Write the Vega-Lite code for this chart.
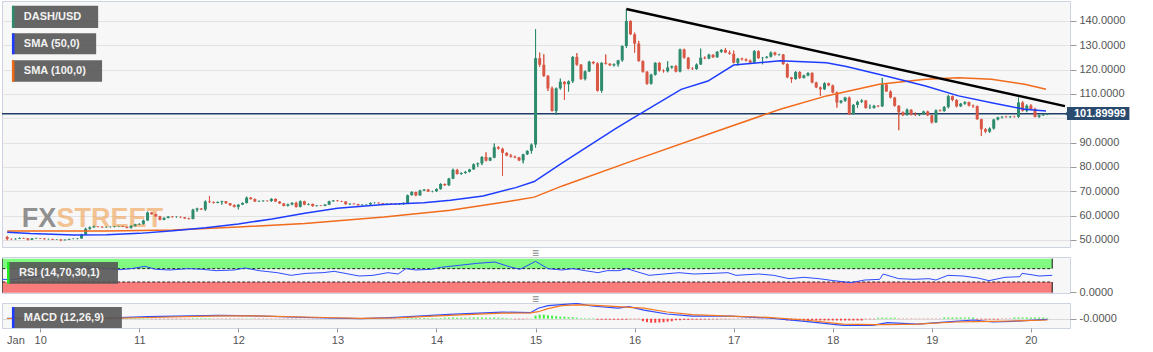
{
"$schema": "https://vega.github.io/schema/vega-lite/v6.json",
"padding": 0,
"background": "white",
"spacing": 10,
"bounds": "flush",
"config": {
  "font": "Liberation Sans",
  "view": {"stroke": "#cdd3e2", "fill": "#f7f7f7"},
  "axis": {"labelFont": "Liberation Sans", "labelFontSize": 11, "labelColor": "#555555", "tickColor": "#999999", "domain": false, "gridColor": "#e2e2e2"}
},
"datasets": {
"candles": [
{"t":"2020-01-09T16:00","o":51.2,"h":51.6,"l":49.9,"c":50.4,"hg":-0.2},
{"t":"2020-01-09T17:00","o":50.4,"h":50.6,"l":50.1,"c":50.3,"hg":-0.2},
{"t":"2020-01-09T18:00","o":50.3,"h":50.6,"l":50.2,"c":50.5,"hg":-0.2},
{"t":"2020-01-09T19:00","o":50.5,"h":51.0,"l":50.4,"c":50.8,"hg":-0.2},
{"t":"2020-01-09T20:00","o":50.8,"h":50.9,"l":50.5,"c":50.6,"hg":-0.2},
{"t":"2020-01-09T21:00","o":50.6,"h":50.7,"l":49.8,"c":50.1,"hg":-0.2},
{"t":"2020-01-09T22:00","o":50.1,"h":50.8,"l":50.0,"c":50.6,"hg":-0.2},
{"t":"2020-01-09T23:00","o":50.6,"h":50.9,"l":50.5,"c":50.7,"hg":-0.2},
{"t":"2020-01-10T00:00","o":50.7,"h":50.8,"l":50.4,"c":50.6,"hg":-0.2},
{"t":"2020-01-10T01:00","o":50.6,"h":50.7,"l":50.2,"c":50.3,"hg":-0.2},
{"t":"2020-01-10T02:00","o":50.3,"h":50.5,"l":50.2,"c":50.4,"hg":-0.2},
{"t":"2020-01-10T03:00","o":50.4,"h":50.5,"l":50.0,"c":50.1,"hg":-0.2},
{"t":"2020-01-10T04:00","o":50.1,"h":50.3,"l":50.0,"c":50.2,"hg":-0.2},
{"t":"2020-01-10T05:00","o":50.2,"h":50.3,"l":49.5,"c":49.9,"hg":-0.2},
{"t":"2020-01-10T06:00","o":49.9,"h":50.2,"l":49.8,"c":50.1,"hg":-0.2},
{"t":"2020-01-10T07:00","o":50.1,"h":50.5,"l":50.0,"c":50.4,"hg":-0.2},
{"t":"2020-01-10T08:00","o":50.4,"h":50.6,"l":50.3,"c":50.5,"hg":-0.2},
{"t":"2020-01-10T09:00","o":50.5,"h":50.8,"l":50.3,"c":50.6,"hg":-0.2},
{"t":"2020-01-10T10:00","o":50.6,"h":52.5,"l":50.5,"c":52.2,"hg":0.5},
{"t":"2020-01-10T11:00","o":52.2,"h":55.0,"l":52.0,"c":54.6,"hg":0.5},
{"t":"2020-01-10T12:00","o":54.6,"h":55.5,"l":54.2,"c":55.2,"hg":0.5},
{"t":"2020-01-10T13:00","o":55.2,"h":55.9,"l":55.0,"c":55.5,"hg":0.5},
{"t":"2020-01-10T14:00","o":55.5,"h":55.7,"l":55.2,"c":55.4,"hg":0.5},
{"t":"2020-01-10T15:00","o":55.4,"h":55.6,"l":55.0,"c":55.2,"hg":0.5},
{"t":"2020-01-10T16:00","o":55.2,"h":55.5,"l":55.0,"c":55.3,"hg":0.5},
{"t":"2020-01-10T17:00","o":55.3,"h":55.5,"l":55.1,"c":55.4,"hg":0.5},
{"t":"2020-01-10T18:00","o":55.4,"h":55.7,"l":55.2,"c":55.6,"hg":0.5},
{"t":"2020-01-10T19:00","o":55.6,"h":55.8,"l":55.4,"c":55.7,"hg":0.5},
{"t":"2020-01-10T20:00","o":55.7,"h":55.8,"l":55.3,"c":55.4,"hg":0.5},
{"t":"2020-01-10T21:00","o":55.4,"h":55.5,"l":54.8,"c":55.0,"hg":0.5},
{"t":"2020-01-10T22:00","o":55.0,"h":56.0,"l":54.7,"c":55.8,"hg":0.5},
{"t":"2020-01-10T23:00","o":55.8,"h":56.6,"l":55.5,"c":56.4,"hg":0.5},
{"t":"2020-01-11T00:00","o":56.4,"h":56.8,"l":56.2,"c":56.6,"hg":0.5},
{"t":"2020-01-11T01:00","o":56.6,"h":58.3,"l":56.3,"c":58.0,"hg":0.5},
{"t":"2020-01-11T02:00","o":58.0,"h":61.6,"l":57.8,"c":61.3,"hg":0.5},
{"t":"2020-01-11T03:00","o":61.3,"h":61.5,"l":60.4,"c":60.6,"hg":-0.4},
{"t":"2020-01-11T04:00","o":60.6,"h":60.8,"l":59.5,"c":59.7,"hg":-0.4},
{"t":"2020-01-11T05:00","o":59.7,"h":59.9,"l":58.1,"c":58.3,"hg":-0.4},
{"t":"2020-01-11T06:00","o":58.3,"h":59.3,"l":58.1,"c":59.0,"hg":-0.4},
{"t":"2020-01-11T07:00","o":59.0,"h":59.8,"l":58.9,"c":59.6,"hg":-0.4},
{"t":"2020-01-11T08:00","o":59.6,"h":59.8,"l":59.2,"c":59.4,"hg":-0.4},
{"t":"2020-01-11T09:00","o":59.4,"h":59.7,"l":59.2,"c":59.5,"hg":-0.4},
{"t":"2020-01-11T10:00","o":59.5,"h":59.6,"l":59.1,"c":59.3,"hg":-0.4},
{"t":"2020-01-11T11:00","o":59.3,"h":59.4,"l":58.6,"c":58.8,"hg":-0.4},
{"t":"2020-01-11T12:00","o":58.8,"h":59.1,"l":58.4,"c":58.6,"hg":-0.4},
{"t":"2020-01-11T13:00","o":58.6,"h":62.8,"l":58.5,"c":62.4,"hg":0.5},
{"t":"2020-01-11T14:00","o":62.4,"h":63.2,"l":61.6,"c":62.9,"hg":0.5},
{"t":"2020-01-11T15:00","o":62.9,"h":63.0,"l":62.3,"c":62.5,"hg":0.5},
{"t":"2020-01-11T16:00","o":62.5,"h":66.2,"l":61.9,"c":65.8,"hg":0.5},
{"t":"2020-01-11T17:00","o":65.8,"h":68.1,"l":65.2,"c":65.5,"hg":0.5},
{"t":"2020-01-11T18:00","o":65.5,"h":65.8,"l":65.0,"c":65.2,"hg":-0.3},
{"t":"2020-01-11T19:00","o":65.2,"h":65.8,"l":65.1,"c":65.6,"hg":-0.3},
{"t":"2020-01-11T20:00","o":65.6,"h":66.1,"l":64.5,"c":65.9,"hg":-0.3},
{"t":"2020-01-11T21:00","o":65.9,"h":66.0,"l":64.9,"c":65.1,"hg":-0.3},
{"t":"2020-01-11T22:00","o":65.1,"h":65.2,"l":64.0,"c":64.3,"hg":-0.3},
{"t":"2020-01-11T23:00","o":64.3,"h":64.6,"l":63.4,"c":63.6,"hg":-0.3},
{"t":"2020-01-12T00:00","o":63.6,"h":64.7,"l":62.6,"c":64.5,"hg":-0.3},
{"t":"2020-01-12T01:00","o":64.5,"h":65.4,"l":64.4,"c":65.2,"hg":-0.3},
{"t":"2020-01-12T02:00","o":65.2,"h":67.8,"l":65.0,"c":67.4,"hg":0.3},
{"t":"2020-01-12T03:00","o":67.4,"h":67.6,"l":66.6,"c":66.8,"hg":0.3},
{"t":"2020-01-12T04:00","o":66.8,"h":67.0,"l":65.6,"c":65.8,"hg":-0.3},
{"t":"2020-01-12T05:00","o":65.8,"h":66.2,"l":65.6,"c":65.9,"hg":-0.3},
{"t":"2020-01-12T06:00","o":65.9,"h":66.3,"l":65.8,"c":66.1,"hg":-0.3},
{"t":"2020-01-12T07:00","o":66.1,"h":66.3,"l":65.8,"c":66.0,"hg":-0.3},
{"t":"2020-01-12T08:00","o":66.0,"h":67.1,"l":65.6,"c":66.9,"hg":-0.3},
{"t":"2020-01-12T09:00","o":66.9,"h":67.0,"l":65.6,"c":65.8,"hg":-0.3},
{"t":"2020-01-12T10:00","o":65.8,"h":66.0,"l":64.8,"c":65.0,"hg":-0.3},
{"t":"2020-01-12T11:00","o":65.0,"h":65.2,"l":63.8,"c":64.0,"hg":-0.3},
{"t":"2020-01-12T12:00","o":64.0,"h":64.9,"l":63.8,"c":64.6,"hg":-0.3},
{"t":"2020-01-12T13:00","o":64.6,"h":65.5,"l":64.3,"c":65.2,"hg":-0.3},
{"t":"2020-01-12T14:00","o":65.2,"h":65.7,"l":63.3,"c":63.6,"hg":-0.3},
{"t":"2020-01-12T15:00","o":63.6,"h":66.2,"l":63.4,"c":65.9,"hg":-0.2},
{"t":"2020-01-12T16:00","o":65.9,"h":66.1,"l":64.3,"c":64.5,"hg":-0.2},
{"t":"2020-01-12T17:00","o":64.5,"h":65.0,"l":64.3,"c":64.8,"hg":-0.2},
{"t":"2020-01-12T18:00","o":64.8,"h":64.9,"l":63.7,"c":63.9,"hg":-0.2},
{"t":"2020-01-12T19:00","o":63.9,"h":64.3,"l":63.8,"c":64.1,"hg":-0.2},
{"t":"2020-01-12T20:00","o":64.1,"h":64.3,"l":63.9,"c":64.0,"hg":-0.2},
{"t":"2020-01-12T21:00","o":64.0,"h":64.7,"l":63.9,"c":64.5,"hg":-0.2},
{"t":"2020-01-12T22:00","o":64.5,"h":66.1,"l":64.4,"c":65.9,"hg":-0.2},
{"t":"2020-01-12T23:00","o":65.9,"h":66.4,"l":65.7,"c":66.2,"hg":-0.2},
{"t":"2020-01-13T00:00","o":66.2,"h":66.4,"l":65.8,"c":66.0,"hg":-0.2},
{"t":"2020-01-13T01:00","o":66.0,"h":66.1,"l":65.6,"c":65.8,"hg":-0.2},
{"t":"2020-01-13T02:00","o":65.8,"h":65.9,"l":64.5,"c":64.7,"hg":-0.2},
{"t":"2020-01-13T03:00","o":64.7,"h":65.0,"l":64.4,"c":64.9,"hg":-0.2},
{"t":"2020-01-13T04:00","o":64.9,"h":65.0,"l":64.6,"c":64.7,"hg":-0.2},
{"t":"2020-01-13T05:00","o":64.7,"h":64.8,"l":64.1,"c":64.3,"hg":-0.2},
{"t":"2020-01-13T06:00","o":64.3,"h":64.6,"l":64.2,"c":64.5,"hg":-0.2},
{"t":"2020-01-13T07:00","o":64.5,"h":64.7,"l":64.4,"c":64.6,"hg":-0.2},
{"t":"2020-01-13T08:00","o":64.6,"h":65.4,"l":64.4,"c":65.2,"hg":-0.2},
{"t":"2020-01-13T09:00","o":65.2,"h":65.4,"l":65.0,"c":65.3,"hg":-0.2},
{"t":"2020-01-13T10:00","o":65.3,"h":65.4,"l":64.9,"c":65.1,"hg":-0.2},
{"t":"2020-01-13T11:00","o":65.1,"h":65.2,"l":64.6,"c":64.8,"hg":-0.2},
{"t":"2020-01-13T12:00","o":64.8,"h":65.0,"l":64.6,"c":64.9,"hg":-0.2},
{"t":"2020-01-13T13:00","o":64.9,"h":65.1,"l":64.7,"c":64.8,"hg":-0.2},
{"t":"2020-01-13T14:00","o":64.8,"h":65.0,"l":64.5,"c":64.6,"hg":-0.2},
{"t":"2020-01-13T15:00","o":64.6,"h":64.9,"l":64.4,"c":64.7,"hg":-0.2},
{"t":"2020-01-13T16:00","o":64.7,"h":65.4,"l":64.6,"c":65.2,"hg":-0.2},
{"t":"2020-01-13T17:00","o":65.2,"h":68.6,"l":65.1,"c":68.4,"hg":0.6},
{"t":"2020-01-13T18:00","o":68.4,"h":70.0,"l":68.3,"c":69.7,"hg":0.6},
{"t":"2020-01-13T19:00","o":69.7,"h":69.8,"l":68.0,"c":68.3,"hg":0.6},
{"t":"2020-01-13T20:00","o":68.3,"h":70.6,"l":68.2,"c":70.3,"hg":0.6},
{"t":"2020-01-13T21:00","o":70.3,"h":70.9,"l":70.1,"c":70.7,"hg":0.6},
{"t":"2020-01-13T22:00","o":70.7,"h":70.9,"l":69.7,"c":69.9,"hg":0.6},
{"t":"2020-01-13T23:00","o":69.9,"h":70.2,"l":69.6,"c":70.0,"hg":0.6},
{"t":"2020-01-14T00:00","o":70.0,"h":71.2,"l":69.8,"c":70.9,"hg":0.6},
{"t":"2020-01-14T01:00","o":70.9,"h":73.3,"l":70.7,"c":73.0,"hg":0.6},
{"t":"2020-01-14T02:00","o":73.0,"h":73.2,"l":72.2,"c":72.5,"hg":1.0},
{"t":"2020-01-14T03:00","o":72.5,"h":75.5,"l":72.2,"c":75.2,"hg":1.0},
{"t":"2020-01-14T04:00","o":75.2,"h":79.3,"l":75.0,"c":78.8,"hg":1.2},
{"t":"2020-01-14T05:00","o":78.8,"h":79.2,"l":76.9,"c":77.1,"hg":1.0},
{"t":"2020-01-14T06:00","o":77.1,"h":77.8,"l":76.8,"c":77.5,"hg":1.0},
{"t":"2020-01-14T07:00","o":77.5,"h":78.3,"l":77.2,"c":78.0,"hg":1.0},
{"t":"2020-01-14T08:00","o":78.0,"h":79.2,"l":77.8,"c":79.0,"hg":1.0},
{"t":"2020-01-14T09:00","o":79.0,"h":81.4,"l":78.8,"c":81.1,"hg":1.2},
{"t":"2020-01-14T10:00","o":81.1,"h":81.8,"l":80.0,"c":81.5,"hg":1.2},
{"t":"2020-01-14T11:00","o":81.5,"h":84.4,"l":80.8,"c":84.1,"hg":1.2},
{"t":"2020-01-14T12:00","o":84.1,"h":86.0,"l":82.3,"c":82.6,"hg":1.0},
{"t":"2020-01-14T13:00","o":82.6,"h":84.0,"l":82.4,"c":83.8,"hg":1.0},
{"t":"2020-01-14T14:00","o":83.8,"h":89.6,"l":83.6,"c":88.1,"hg":1.2},
{"t":"2020-01-14T15:00","o":88.1,"h":88.6,"l":87.2,"c":87.5,"hg":1.0},
{"t":"2020-01-14T16:00","o":87.5,"h":87.9,"l":76.3,"c":85.8,"hg":0.8},
{"t":"2020-01-14T17:00","o":85.8,"h":86.0,"l":84.4,"c":84.7,"hg":0.6},
{"t":"2020-01-14T18:00","o":84.7,"h":85.3,"l":83.9,"c":84.2,"hg":0.4},
{"t":"2020-01-14T19:00","o":84.2,"h":84.6,"l":83.6,"c":83.9,"hg":-0.5},
{"t":"2020-01-14T20:00","o":83.9,"h":84.1,"l":82.4,"c":82.7,"hg":-0.5},
{"t":"2020-01-14T21:00","o":82.7,"h":85.4,"l":81.5,"c":85.2,"hg":-0.5},
{"t":"2020-01-14T22:00","o":85.2,"h":86.8,"l":84.9,"c":86.6,"hg":-0.3},
{"t":"2020-01-14T23:00","o":86.6,"h":89.6,"l":85.5,"c":89.2,"hg":0.3},
{"t":"2020-01-15T00:00","o":89.2,"h":136.6,"l":87.9,"c":124.7,"hg":3.0},
{"t":"2020-01-15T01:00","o":124.7,"h":127.0,"l":121.2,"c":122.0,"hg":4.0},
{"t":"2020-01-15T02:00","o":122.0,"h":126.3,"l":117.0,"c":117.4,"hg":4.0},
{"t":"2020-01-15T03:00","o":117.4,"h":117.8,"l":111.2,"c":112.3,"hg":3.5},
{"t":"2020-01-15T04:00","o":112.3,"h":113.0,"l":102.8,"c":103.0,"hg":3.0},
{"t":"2020-01-15T05:00","o":103.0,"h":112.6,"l":101.4,"c":112.3,"hg":2.5},
{"t":"2020-01-15T06:00","o":112.3,"h":116.3,"l":111.8,"c":115.0,"hg":2.0},
{"t":"2020-01-15T07:00","o":115.0,"h":115.3,"l":107.5,"c":114.0,"hg":2.0},
{"t":"2020-01-15T08:00","o":114.0,"h":115.5,"l":111.0,"c":115.2,"hg":1.5},
{"t":"2020-01-15T09:00","o":115.2,"h":125.6,"l":114.5,"c":125.2,"hg":1.5},
{"t":"2020-01-15T10:00","o":125.2,"h":126.8,"l":121.6,"c":122.0,"hg":1.0},
{"t":"2020-01-15T11:00","o":122.0,"h":122.3,"l":115.8,"c":116.2,"hg":0.5},
{"t":"2020-01-15T12:00","o":116.2,"h":119.6,"l":115.6,"c":119.3,"hg":0.5},
{"t":"2020-01-15T13:00","o":119.3,"h":123.6,"l":119.0,"c":123.2,"hg":0.5},
{"t":"2020-01-15T14:00","o":123.2,"h":123.4,"l":122.2,"c":122.6,"hg":0.5},
{"t":"2020-01-15T15:00","o":122.6,"h":123.0,"l":111.0,"c":111.3,"hg":-1.0},
{"t":"2020-01-15T16:00","o":111.3,"h":123.0,"l":110.5,"c":122.8,"hg":-1.0},
{"t":"2020-01-15T17:00","o":122.8,"h":126.2,"l":122.1,"c":122.4,"hg":-1.0},
{"t":"2020-01-15T18:00","o":122.4,"h":122.6,"l":121.5,"c":121.8,"hg":-1.0},
{"t":"2020-01-15T19:00","o":121.8,"h":122.5,"l":121.3,"c":122.2,"hg":-1.0},
{"t":"2020-01-15T20:00","o":122.2,"h":124.0,"l":121.3,"c":123.8,"hg":-1.0},
{"t":"2020-01-15T21:00","o":123.8,"h":129.9,"l":123.3,"c":129.7,"hg":-1.0},
{"t":"2020-01-15T22:00","o":129.7,"h":144.9,"l":128.9,"c":140.0,"hg":-1.0},
{"t":"2020-01-15T23:00","o":140.0,"h":140.3,"l":134.2,"c":134.5,"hg":-0.5},
{"t":"2020-01-16T00:00","o":134.5,"h":135.2,"l":127.0,"c":130.7,"hg":-0.5},
{"t":"2020-01-16T01:00","o":130.7,"h":131.8,"l":123.3,"c":123.5,"hg":-0.5},
{"t":"2020-01-16T02:00","o":123.5,"h":123.8,"l":118.8,"c":119.1,"hg":-2.5},
{"t":"2020-01-16T03:00","o":119.1,"h":119.4,"l":113.8,"c":114.2,"hg":-3.5},
{"t":"2020-01-16T04:00","o":114.2,"h":118.3,"l":113.9,"c":117.9,"hg":-4.0},
{"t":"2020-01-16T05:00","o":117.9,"h":123.0,"l":117.6,"c":122.8,"hg":-4.0},
{"t":"2020-01-16T06:00","o":122.8,"h":123.1,"l":119.2,"c":119.6,"hg":-3.8},
{"t":"2020-01-16T07:00","o":119.6,"h":120.1,"l":118.8,"c":119.3,"hg":-3.5},
{"t":"2020-01-16T08:00","o":119.3,"h":123.5,"l":118.9,"c":120.9,"hg":-3.0},
{"t":"2020-01-16T09:00","o":120.9,"h":121.6,"l":120.4,"c":121.4,"hg":-2.5},
{"t":"2020-01-16T10:00","o":121.4,"h":121.9,"l":118.9,"c":119.2,"hg":-1.5},
{"t":"2020-01-16T11:00","o":119.2,"h":128.6,"l":118.9,"c":128.3,"hg":-1.5},
{"t":"2020-01-16T12:00","o":128.3,"h":128.6,"l":124.5,"c":124.9,"hg":-1.2},
{"t":"2020-01-16T13:00","o":124.9,"h":125.2,"l":120.1,"c":120.4,"hg":-1.2},
{"t":"2020-01-16T14:00","o":120.4,"h":121.0,"l":119.9,"c":120.2,"hg":-1.0},
{"t":"2020-01-16T15:00","o":120.2,"h":122.5,"l":120.0,"c":122.1,"hg":-1.0},
{"t":"2020-01-16T16:00","o":122.1,"h":128.6,"l":121.9,"c":124.9,"hg":-1.0},
{"t":"2020-01-16T17:00","o":124.9,"h":125.4,"l":124.3,"c":124.6,"hg":-0.8},
{"t":"2020-01-16T18:00","o":124.6,"h":126.5,"l":124.3,"c":126.1,"hg":-0.8},
{"t":"2020-01-16T19:00","o":126.1,"h":126.3,"l":124.8,"c":125.1,"hg":-0.6},
{"t":"2020-01-16T20:00","o":125.1,"h":127.6,"l":124.9,"c":127.3,"hg":-0.6},
{"t":"2020-01-16T21:00","o":127.3,"h":128.4,"l":126.9,"c":128.1,"hg":-0.5},
{"t":"2020-01-16T22:00","o":128.1,"h":128.9,"l":126.8,"c":127.0,"hg":-0.5},
{"t":"2020-01-16T23:00","o":127.0,"h":127.8,"l":126.2,"c":126.5,"hg":-0.4},
{"t":"2020-01-17T00:00","o":126.5,"h":127.8,"l":122.6,"c":122.8,"hg":-0.3},
{"t":"2020-01-17T01:00","o":122.8,"h":124.8,"l":121.7,"c":124.5,"hg":-0.3},
{"t":"2020-01-17T02:00","o":124.5,"h":124.9,"l":123.8,"c":124.2,"hg":-0.3},
{"t":"2020-01-17T03:00","o":124.2,"h":124.6,"l":123.4,"c":123.7,"hg":-0.3},
{"t":"2020-01-17T04:00","o":123.7,"h":124.1,"l":122.6,"c":122.9,"hg":-0.3},
{"t":"2020-01-17T05:00","o":122.9,"h":128.0,"l":122.7,"c":127.6,"hg":-0.3},
{"t":"2020-01-17T06:00","o":127.6,"h":127.9,"l":124.4,"c":124.7,"hg":-0.3},
{"t":"2020-01-17T07:00","o":124.7,"h":125.1,"l":122.2,"c":124.9,"hg":-0.3},
{"t":"2020-01-17T08:00","o":124.9,"h":125.6,"l":124.6,"c":125.3,"hg":-0.3},
{"t":"2020-01-17T09:00","o":125.3,"h":127.4,"l":125.0,"c":127.0,"hg":-0.3},
{"t":"2020-01-17T10:00","o":127.0,"h":127.3,"l":125.8,"c":126.1,"hg":-0.3},
{"t":"2020-01-17T11:00","o":126.1,"h":126.5,"l":125.8,"c":126.2,"hg":-0.3},
{"t":"2020-01-17T12:00","o":126.2,"h":126.4,"l":122.0,"c":122.3,"hg":-0.3},
{"t":"2020-01-17T13:00","o":122.3,"h":122.6,"l":116.5,"c":116.8,"hg":-1.8},
{"t":"2020-01-17T14:00","o":116.8,"h":117.0,"l":114.6,"c":116.1,"hg":-1.8},
{"t":"2020-01-17T15:00","o":116.1,"h":119.4,"l":115.9,"c":119.0,"hg":-1.8},
{"t":"2020-01-17T16:00","o":119.0,"h":119.3,"l":116.2,"c":116.6,"hg":-1.8},
{"t":"2020-01-17T17:00","o":116.6,"h":117.9,"l":116.4,"c":117.6,"hg":-1.8},
{"t":"2020-01-17T18:00","o":117.6,"h":118.9,"l":117.3,"c":118.6,"hg":-1.8},
{"t":"2020-01-17T19:00","o":118.6,"h":118.9,"l":114.4,"c":114.7,"hg":-1.8},
{"t":"2020-01-17T20:00","o":114.7,"h":115.0,"l":112.4,"c":112.7,"hg":-1.8},
{"t":"2020-01-17T21:00","o":112.7,"h":113.0,"l":109.2,"c":111.9,"hg":-1.8},
{"t":"2020-01-17T22:00","o":111.9,"h":114.8,"l":111.6,"c":114.4,"hg":-1.8},
{"t":"2020-01-17T23:00","o":114.4,"h":114.6,"l":113.2,"c":113.5,"hg":-1.8},
{"t":"2020-01-18T00:00","o":113.5,"h":113.8,"l":110.3,"c":110.6,"hg":-1.8},
{"t":"2020-01-18T01:00","o":110.6,"h":111.0,"l":104.4,"c":106.5,"hg":-1.8},
{"t":"2020-01-18T02:00","o":106.5,"h":107.5,"l":106.1,"c":107.2,"hg":-1.8},
{"t":"2020-01-18T03:00","o":107.2,"h":108.8,"l":106.8,"c":108.5,"hg":-1.8},
{"t":"2020-01-18T04:00","o":108.5,"h":108.9,"l":101.4,"c":101.7,"hg":-1.8},
{"t":"2020-01-18T05:00","o":101.7,"h":105.8,"l":101.4,"c":105.5,"hg":-1.8},
{"t":"2020-01-18T06:00","o":105.5,"h":107.2,"l":104.2,"c":106.8,"hg":-1.8},
{"t":"2020-01-18T07:00","o":106.8,"h":107.8,"l":106.3,"c":107.3,"hg":-1.8},
{"t":"2020-01-18T08:00","o":107.3,"h":107.5,"l":104.0,"c":104.2,"hg":-0.5},
{"t":"2020-01-18T09:00","o":104.2,"h":105.6,"l":103.9,"c":104.3,"hg":-0.5},
{"t":"2020-01-18T10:00","o":104.3,"h":105.5,"l":104.0,"c":105.1,"hg":-0.5},
{"t":"2020-01-18T11:00","o":105.1,"h":105.4,"l":104.6,"c":104.9,"hg":1.0},
{"t":"2020-01-18T12:00","o":104.9,"h":116.6,"l":104.7,"c":113.9,"hg":1.0},
{"t":"2020-01-18T13:00","o":113.9,"h":114.3,"l":110.8,"c":111.0,"hg":1.0},
{"t":"2020-01-18T14:00","o":111.0,"h":111.5,"l":108.2,"c":108.5,"hg":1.0},
{"t":"2020-01-18T15:00","o":108.5,"h":108.8,"l":104.8,"c":105.1,"hg":1.0},
{"t":"2020-01-18T16:00","o":105.1,"h":105.4,"l":95.1,"c":102.5,"hg":-0.3},
{"t":"2020-01-18T17:00","o":102.5,"h":102.8,"l":100.9,"c":101.3,"hg":-0.3},
{"t":"2020-01-18T18:00","o":101.3,"h":104.0,"l":101.1,"c":103.5,"hg":-0.3},
{"t":"2020-01-18T19:00","o":103.5,"h":103.7,"l":101.2,"c":101.5,"hg":-0.3},
{"t":"2020-01-18T20:00","o":101.5,"h":102.4,"l":100.9,"c":101.3,"hg":-0.3},
{"t":"2020-01-18T21:00","o":101.3,"h":101.9,"l":100.9,"c":101.6,"hg":-0.3},
{"t":"2020-01-18T22:00","o":101.6,"h":103.1,"l":101.4,"c":102.8,"hg":-0.3},
{"t":"2020-01-18T23:00","o":102.8,"h":103.1,"l":100.9,"c":101.2,"hg":-0.3},
{"t":"2020-01-19T00:00","o":101.2,"h":101.5,"l":97.9,"c":98.3,"hg":-0.3},
{"t":"2020-01-19T01:00","o":98.3,"h":103.6,"l":98.1,"c":103.2,"hg":-0.3},
{"t":"2020-01-19T02:00","o":103.2,"h":103.6,"l":102.8,"c":103.0,"hg":-0.3},
{"t":"2020-01-19T03:00","o":103.0,"h":105.0,"l":102.7,"c":104.6,"hg":1.2},
{"t":"2020-01-19T04:00","o":104.6,"h":109.6,"l":104.1,"c":109.1,"hg":1.2},
{"t":"2020-01-19T05:00","o":109.1,"h":109.3,"l":107.0,"c":107.5,"hg":1.2},
{"t":"2020-01-19T06:00","o":107.5,"h":107.8,"l":104.5,"c":104.9,"hg":1.2},
{"t":"2020-01-19T07:00","o":104.9,"h":106.3,"l":104.7,"c":106.0,"hg":1.2},
{"t":"2020-01-19T08:00","o":106.0,"h":107.0,"l":105.6,"c":106.6,"hg":1.2},
{"t":"2020-01-19T09:00","o":106.6,"h":106.8,"l":104.9,"c":105.2,"hg":1.2},
{"t":"2020-01-19T10:00","o":105.2,"h":105.6,"l":104.3,"c":105.0,"hg":1.2},
{"t":"2020-01-19T11:00","o":105.0,"h":105.2,"l":99.4,"c":99.6,"hg":-0.8},
{"t":"2020-01-19T12:00","o":99.6,"h":99.9,"l":92.7,"c":95.5,"hg":-0.8},
{"t":"2020-01-19T13:00","o":95.5,"h":96.0,"l":93.9,"c":94.5,"hg":-0.8},
{"t":"2020-01-19T14:00","o":94.5,"h":96.2,"l":94.0,"c":95.8,"hg":-0.8},
{"t":"2020-01-19T15:00","o":95.8,"h":99.8,"l":95.4,"c":99.5,"hg":-0.8},
{"t":"2020-01-19T16:00","o":99.5,"h":100.6,"l":99.2,"c":100.4,"hg":-0.8},
{"t":"2020-01-19T17:00","o":100.4,"h":100.8,"l":99.9,"c":100.6,"hg":-0.3},
{"t":"2020-01-19T18:00","o":100.6,"h":101.0,"l":100.3,"c":100.5,"hg":-0.3},
{"t":"2020-01-19T19:00","o":100.5,"h":100.9,"l":100.2,"c":100.7,"hg":-0.3},
{"t":"2020-01-19T20:00","o":100.7,"h":101.0,"l":100.3,"c":100.6,"hg":1.2},
{"t":"2020-01-19T21:00","o":100.6,"h":108.5,"l":100.1,"c":106.5,"hg":1.2},
{"t":"2020-01-19T22:00","o":106.5,"h":107.0,"l":102.8,"c":103.1,"hg":1.2},
{"t":"2020-01-19T23:00","o":103.1,"h":105.7,"l":102.5,"c":105.2,"hg":1.2},
{"t":"2020-01-20T00:00","o":105.2,"h":105.8,"l":103.5,"c":103.8,"hg":1.2},
{"t":"2020-01-20T01:00","o":103.8,"h":104.3,"l":100.4,"c":100.6,"hg":1.2},
{"t":"2020-01-20T02:00","o":100.6,"h":101.5,"l":100.2,"c":101.2,"hg":1.2},
{"t":"2020-01-20T03:00","o":101.2,"h":101.8,"l":101.0,"c":101.5,"hg":1.2},
{"t":"2020-01-20T04:00","o":101.5,"h":102.0,"l":101.3,"c":101.9,"hg":0.5}
],
"sma50": [
{"t":"2020-01-09T16:00","v":53.2},{"t":"2020-01-09T21:36","v":52.6},{"t":"2020-01-10T08:10","v":52.0},{"t":"2020-01-10T16:05","v":52.1},
{"t":"2020-01-11T00:00","v":52.7},{"t":"2020-01-11T08:10","v":53.8},{"t":"2020-01-11T16:05","v":55.0},{"t":"2020-01-12T00:00","v":56.6},
{"t":"2020-01-12T08:10","v":58.6},{"t":"2020-01-12T16:05","v":61.0},{"t":"2020-01-13T00:00","v":63.0},{"t":"2020-01-13T11:17","v":64.6},
{"t":"2020-01-13T20:53","v":65.3},{"t":"2020-01-14T03:22","v":66.3},{"t":"2020-01-14T11:17","v":68.1},{"t":"2020-01-14T19:12","v":71.5},
{"t":"2020-01-14T23:41","v":74.0},{"t":"2020-01-15T06:29","v":81.7},{"t":"2020-01-15T19:12","v":95.5},{"t":"2020-01-15T23:17","v":99.8},
{"t":"2020-01-16T11:17","v":111.9},{"t":"2020-01-16T17:46","v":115.3},{"t":"2020-01-17T00:00","v":121.9},{"t":"2020-01-17T11:17","v":123.6},
{"t":"2020-01-17T22:29","v":122.8},{"t":"2020-01-18T03:17","v":121.3},{"t":"2020-01-18T12:53","v":117.4},{"t":"2020-01-18T22:29","v":113.3},
{"t":"2020-01-19T06:29","v":109.2},{"t":"2020-01-19T14:28","v":106.4},{"t":"2020-01-19T22:29","v":103.7},{"t":"2020-01-20T03:40","v":103.0}
],
"sma100": [
{"t":"2020-01-09T16:00","v":53.7},{"t":"2020-01-10T16:05","v":53.7},{"t":"2020-01-11T08:10","v":54.1},{"t":"2020-01-12T00:00","v":55.3},
{"t":"2020-01-12T16:05","v":56.8},{"t":"2020-01-13T11:17","v":59.4},{"t":"2020-01-14T03:22","v":62.2},{"t":"2020-01-14T19:12","v":66.3},
{"t":"2020-01-14T23:41","v":67.6},{"t":"2020-01-15T06:29","v":72.2},{"t":"2020-01-15T23:17","v":82.4},{"t":"2020-01-16T20:05","v":94.8},
{"t":"2020-01-17T11:17","v":103.7},{"t":"2020-01-17T22:29","v":109.2},{"t":"2020-01-18T11:17","v":114.0},{"t":"2020-01-18T22:29","v":116.0},
{"t":"2020-01-19T06:29","v":116.7},{"t":"2020-01-19T14:28","v":116.0},{"t":"2020-01-19T22:29","v":114.0},{"t":"2020-01-20T03:40","v":111.9}
],
"trend": [
{"t":"2020-01-15T22:00","v":144.9},{"t":"2020-01-20T08:16","v":105.0}
],
"rsi": [
{"t":"2020-01-09T16:00","v":38},{"t":"2020-01-09T18:20","v":37},{"t":"2020-01-09T23:10","v":45},{"t":"2020-01-10T05:40","v":58},
{"t":"2020-01-10T09:15","v":70},{"t":"2020-01-10T11:50","v":76},{"t":"2020-01-10T16:00","v":72},{"t":"2020-01-10T20:15","v":67},
{"t":"2020-01-10T22:55","v":70},{"t":"2020-01-11T02:15","v":77},{"t":"2020-01-11T04:55","v":68},{"t":"2020-01-11T08:15","v":66},
{"t":"2020-01-11T12:35","v":70},{"t":"2020-01-11T16:00","v":68},{"t":"2020-01-11T19:20","v":64},{"t":"2020-01-11T23:40","v":66},
{"t":"2020-01-12T02:15","v":72},{"t":"2020-01-12T05:40","v":64},{"t":"2020-01-12T10:00","v":58},{"t":"2020-01-12T13:20","v":50},
{"t":"2020-01-12T16:55","v":56},{"t":"2020-01-12T21:00","v":58},{"t":"2020-01-12T23:40","v":62},{"t":"2020-01-13T02:15","v":56},
{"t":"2020-01-13T05:40","v":48},{"t":"2020-01-13T09:00","v":50},{"t":"2020-01-13T12:35","v":58},{"t":"2020-01-13T15:00","v":54},
{"t":"2020-01-13T16:55","v":70},{"t":"2020-01-13T19:15","v":66},{"t":"2020-01-13T22:55","v":68},{"t":"2020-01-14T01:15","v":74},
{"t":"2020-01-14T05:40","v":80},{"t":"2020-01-14T10:00","v":86},{"t":"2020-01-14T14:15","v":90},{"t":"2020-01-14T17:40","v":76},
{"t":"2020-01-14T20:15","v":68},{"t":"2020-01-15T00:00","v":92},{"t":"2020-01-15T03:00","v":70},{"t":"2020-01-15T06:20","v":66},
{"t":"2020-01-15T09:00","v":70},{"t":"2020-01-15T11:55","v":64},{"t":"2020-01-15T15:00","v":58},{"t":"2020-01-15T17:10","v":64},
{"t":"2020-01-15T20:00","v":64},{"t":"2020-01-15T21:55","v":70},{"t":"2020-01-16T00:35","v":60},{"t":"2020-01-16T03:15","v":50},
{"t":"2020-01-16T06:50","v":54},{"t":"2020-01-16T10:25","v":58},{"t":"2020-01-16T14:00","v":54},{"t":"2020-01-16T18:35","v":56},
{"t":"2020-01-16T22:10","v":58},{"t":"2020-01-17T00:05","v":50},{"t":"2020-01-17T05:35","v":54},{"t":"2020-01-17T09:10","v":50},
{"t":"2020-01-17T12:50","v":40},{"t":"2020-01-17T16:25","v":44},{"t":"2020-01-17T20:00","v":40},{"t":"2020-01-17T23:35","v":34},
{"t":"2020-01-18T03:40","v":28},{"t":"2020-01-18T07:00","v":36},{"t":"2020-01-18T10:35","v":38},{"t":"2020-01-18T11:25","v":54},
{"t":"2020-01-18T15:10","v":40},{"t":"2020-01-18T18:50","v":38},{"t":"2020-01-18T22:25","v":40},{"t":"2020-01-19T00:05","v":36},
{"t":"2020-01-19T03:00","v":50},{"t":"2020-01-19T06:35","v":48},{"t":"2020-01-19T10:10","v":42},{"t":"2020-01-19T12:50","v":34},
{"t":"2020-01-19T16:40","v":44},{"t":"2020-01-19T20:15","v":46},{"t":"2020-01-19T20:45","v":56},{"t":"2020-01-19T22:55","v":52},
{"t":"2020-01-20T00:50","v":48},{"t":"2020-01-20T04:00","v":50}
],
"macd": [
{"t":"2020-01-09T16:00","m":0.3,"s":0.2},{"t":"2020-01-10T16:00","m":0.6,"s":0.4},{"t":"2020-01-11T02:15","m":2.0,"s":1.2},
{"t":"2020-01-11T19:20","m":3.4,"s":2.8},{"t":"2020-01-12T04:00","m":2.8,"s":2.9},{"t":"2020-01-12T21:00","m":0.7,"s":1.2},
{"t":"2020-01-13T05:40","m":0.0,"s":0.4},{"t":"2020-01-13T14:15","m":1.3,"s":0.8},{"t":"2020-01-14T03:00","m":4.3,"s":3.3},
{"t":"2020-01-14T16:00","m":6.6,"s":5.6},{"t":"2020-01-14T22:45","m":6.0,"s":5.8},{"t":"2020-01-15T00:40","m":10.5,"s":7.0},
{"t":"2020-01-15T03:00","m":13.0,"s":10.0},{"t":"2020-01-15T06:20","m":14.0,"s":13.0},{"t":"2020-01-15T10:00","m":15.3,"s":13.8},
{"t":"2020-01-15T13:35","m":12.7,"s":13.5},{"t":"2020-01-15T20:00","m":10.6,"s":12.1},{"t":"2020-01-15T22:40","m":12.0,"s":11.4},
{"t":"2020-01-16T02:15","m":8.6,"s":10.6},{"t":"2020-01-16T07:50","m":4.7,"s":6.7},{"t":"2020-01-16T14:00","m":2.6,"s":4.0},
{"t":"2020-01-16T23:10","m":2.6,"s":2.6},{"t":"2020-01-17T08:15","m":0.7,"s":1.3},{"t":"2020-01-17T17:20","m":-2.6,"s":-1.3},
{"t":"2020-01-18T02:30","m":-6.7,"s":-5.4},{"t":"2020-01-18T09:40","m":-6.7,"s":-6.0},{"t":"2020-01-18T13:15","m":-4.0,"s":-6.0},
{"t":"2020-01-18T20:30","m":-5.4,"s":-5.4},{"t":"2020-01-19T05:35","m":-2.6,"s":-3.3},{"t":"2020-01-19T10:10","m":-1.3,"s":-3.0},
{"t":"2020-01-19T14:45","m":-3.3,"s":-2.6},{"t":"2020-01-19T19:20","m":-2.6,"s":-2.3},{"t":"2020-01-20T04:00","m":-0.7,"s":-1.3}
]
},
"vconcat": [
{
 "width": 1068, "height": 246,
 "data": {"values": [{}]},
 "resolve": {"axis": {"x": "independent", "y": "independent"}},
 "layer": [
  {"data": {"name": "candles"}, "mark": {"type": "rule", "strokeWidth": 1, "clip": true},
   "encoding": {"x": {"field": "t", "type": "temporal", "scale": {"domain": [{"year": 2020, "month": "jan", "date": 9, "hours": 15, "minutes": 57}, {"year": 2020, "month": "jan", "date": 20, "hours": 8, "minutes": 16}]}, "axis": null},
                "y": {"field": "l", "type": "quantitative", "scale": {"domain": [47.1, 148.2], "nice": false, "zero": false}, "axis": {"orient": "right", "values": [50, 60, 70, 80, 90, 110, 120, 130, 140], "format": ".4f", "grid": true, "tickSize": 6, "labelPadding": 3, "title": null}},
                "y2": {"field": "h"},
                "color": {"condition": {"test": "datum.c >= datum.o", "value": "#2e8b6e"}, "value": "#d95745"}}},
  {"mark": {"type": "rule", "color": "#e2e2e2", "strokeWidth": 1},
   "encoding": {"y": {"datum": 100, "type": "quantitative", "axis": null}}},
  {"mark": {"type": "text", "text": "FX", "align": "left", "baseline": "alphabetic", "fontSize": 27, "fontWeight": "bold", "fill": "#666666", "opacity": 0.7},
   "encoding": {"x": {"datum": {"year": 2020, "month": "jan", "date": 9, "hours": 19, "minutes": 33}, "type": "temporal", "axis": null},
                "y": {"datum": 55.3, "type": "quantitative", "axis": null}}},
  {"mark": {"type": "text", "text": "STREET", "align": "left", "baseline": "alphabetic", "fontSize": 27, "fontWeight": "bold", "fill": "#f0a050", "opacity": 0.6},
   "encoding": {"x": {"datum": {"year": 2020, "month": "jan", "date": 10, "hours": 3, "minutes": 55}, "type": "temporal", "axis": null},
                "y": {"datum": 55.3, "type": "quantitative", "axis": null}}},
  {"mark": {"type": "rule", "color": "#1f3d66", "strokeWidth": 1.5},
   "encoding": {"y": {"datum": 101.9, "type": "quantitative", "axis": null}}},
  {"data": {"name": "candles"}, "mark": {"type": "rule", "strokeWidth": 1, "clip": true},
   "encoding": {"x": {"field": "t", "type": "temporal", "axis": null},
                "y": {"field": "l", "type": "quantitative", "axis": null},
                "y2": {"field": "h"},
                "color": {"condition": {"test": "datum.c >= datum.o", "value": "#2e8b6e"}, "value": "#d95745"}}},
  {"data": {"name": "candles"}, "mark": {"type": "bar", "size": 3, "clip": true},
   "encoding": {"x": {"field": "t", "type": "temporal", "axis": null},
                "y": {"field": "o", "type": "quantitative", "axis": null},
                "y2": {"field": "c"},
                "color": {"condition": {"test": "datum.c >= datum.o", "value": "#2e8b6e"}, "value": "#d95745"}}},
  {"data": {"name": "sma100"}, "mark": {"type": "line", "color": "#f26a1b", "strokeWidth": 1.5, "clip": true},
   "encoding": {"x": {"field": "t", "type": "temporal", "axis": null},
                "y": {"field": "v", "type": "quantitative", "axis": null}}},
  {"data": {"name": "sma50"}, "mark": {"type": "line", "color": "#1e3cff", "strokeWidth": 1.5, "clip": true},
   "encoding": {"x": {"field": "t", "type": "temporal", "axis": null},
                "y": {"field": "v", "type": "quantitative", "axis": null}}},
  {"data": {"name": "trend"}, "mark": {"type": "line", "color": "#000000", "strokeWidth": 2.5, "clip": true},
   "encoding": {"x": {"field": "t", "type": "temporal", "axis": null},
                "y": {"field": "v", "type": "quantitative", "axis": null}}},
  {"mark": {"type": "rect", "fill": "#555555", "opacity": 0.9},
   "encoding": {"x": {"datum": {"year": 2020, "month": "jan", "date": 9, "hours": 17, "minutes": 9}, "type": "temporal", "axis": null}, "x2": {"datum": {"year": 2020, "month": "jan", "date": 10, "hours": 14, "minutes": 2}},
                "y": {"datum": 146.2, "type": "quantitative", "axis": null}, "y2": {"datum": 137.1}}},
  {"mark": {"type": "rect", "fill": "#2e8b6e"},
   "encoding": {"x": {"datum": {"year": 2020, "month": "jan", "date": 9, "hours": 17, "minutes": 9}, "type": "temporal", "axis": null}, "x2": {"datum": {"year": 2020, "month": "jan", "date": 9, "hours": 17, "minutes": 45}},
                "y": {"datum": 146.2, "type": "quantitative", "axis": null}, "y2": {"datum": 137.1}}},
  {"mark": {"type": "text", "text": "DASH/USD", "align": "left", "baseline": "middle", "fill": "#f2f2f2", "fontSize": 11, "fontWeight": "bold"},
   "encoding": {"x": {"datum": {"year": 2020, "month": "jan", "date": 9, "hours": 20, "minutes": 2}, "type": "temporal", "axis": null}, "y": {"datum": 141.6, "type": "quantitative", "axis": null}}},
  {"mark": {"type": "rect", "fill": "#555555", "opacity": 0.9},
   "encoding": {"x": {"datum": {"year": 2020, "month": "jan", "date": 9, "hours": 17, "minutes": 9}, "type": "temporal", "axis": null}, "x2": {"datum": {"year": 2020, "month": "jan", "date": 10, "hours": 13, "minutes": 33}},
                "y": {"datum": 134.9, "type": "quantitative", "axis": null}, "y2": {"datum": 126.3}}},
  {"mark": {"type": "rect", "fill": "#1e3cff"},
   "encoding": {"x": {"datum": {"year": 2020, "month": "jan", "date": 9, "hours": 17, "minutes": 9}, "type": "temporal", "axis": null}, "x2": {"datum": {"year": 2020, "month": "jan", "date": 9, "hours": 17, "minutes": 45}},
                "y": {"datum": 134.9, "type": "quantitative", "axis": null}, "y2": {"datum": 126.3}}},
  {"mark": {"type": "text", "text": "SMA (50,0)", "align": "left", "baseline": "middle", "fill": "#f2f2f2", "fontSize": 11, "fontWeight": "bold"},
   "encoding": {"x": {"datum": {"year": 2020, "month": "jan", "date": 9, "hours": 20, "minutes": 2}, "type": "temporal", "axis": null}, "y": {"datum": 130.6, "type": "quantitative", "axis": null}}},
  {"mark": {"type": "rect", "fill": "#555555", "opacity": 0.9},
   "encoding": {"x": {"datum": {"year": 2020, "month": "jan", "date": 9, "hours": 17, "minutes": 9}, "type": "temporal", "axis": null}, "x2": {"datum": {"year": 2020, "month": "jan", "date": 10, "hours": 14, "minutes": 59}},
                "y": {"datum": 123.8, "type": "quantitative", "axis": null}, "y2": {"datum": 115.0}}},
  {"mark": {"type": "rect", "fill": "#f06a14"},
   "encoding": {"x": {"datum": {"year": 2020, "month": "jan", "date": 9, "hours": 17, "minutes": 9}, "type": "temporal", "axis": null}, "x2": {"datum": {"year": 2020, "month": "jan", "date": 9, "hours": 17, "minutes": 45}},
                "y": {"datum": 123.8, "type": "quantitative", "axis": null}, "y2": {"datum": 115.0}}},
  {"mark": {"type": "text", "text": "SMA (100,0)", "align": "left", "baseline": "middle", "fill": "#f2f2f2", "fontSize": 11, "fontWeight": "bold"},
   "encoding": {"x": {"datum": {"year": 2020, "month": "jan", "date": 9, "hours": 20, "minutes": 2}, "type": "temporal", "axis": null}, "y": {"datum": 119.4, "type": "quantitative", "axis": null}}},
  {"mark": {"type": "rect", "fill": "#2a4a6e"},
   "encoding": {"x": {"datum": {"year": 2020, "month": "jan", "date": 20, "hours": 8, "minutes": 45}, "type": "temporal", "axis": null}, "x2": {"datum": {"year": 2020, "month": "jan", "date": 20, "hours": 23, "minutes": 52}},
                "y": {"datum": 104.6, "type": "quantitative", "axis": null}, "y2": {"datum": 99.3}}},
  {"mark": {"type": "point", "shape": "triangle-left", "filled": true, "size": 22, "color": "#2a4a6e", "opacity": 1},
   "encoding": {"x": {"datum": {"year": 2020, "month": "jan", "date": 20, "hours": 8, "minutes": 35}, "type": "temporal", "axis": null}, "y": {"datum": 101.9, "type": "quantitative", "axis": null}}},
  {"mark": {"type": "text", "text": "101.89999", "align": "left", "baseline": "middle", "fill": "#ffffff", "fontSize": 11, "fontWeight": "bold"},
   "encoding": {"x": {"datum": {"year": 2020, "month": "jan", "date": 20, "hours": 10, "minutes": 26}, "type": "temporal", "axis": null}, "y": {"datum": 101.9, "type": "quantitative", "axis": null}}}
 ]
},
{
 "width": 1068, "height": 36,
 "data": {"values": [{}]},
 "resolve": {"axis": {"x": "independent", "y": "independent"}},
 "layer": [
  {"mark": {"type": "rect", "fill": "#80fa80"},
   "encoding": {"x": {"datum": {"year": 2020, "month": "jan", "date": 9, "hours": 16}, "type": "temporal", "scale": {"domain": [{"year": 2020, "month": "jan", "date": 9, "hours": 15, "minutes": 57}, {"year": 2020, "month": "jan", "date": 20, "hours": 8, "minutes": 16}]}, "axis": null},
                "x2": {"datum": {"year": 2020, "month": "jan", "date": 20, "hours": 4}},
                "y": {"datum": 100, "type": "quantitative", "scale": {"domain": [-3, 105], "nice": false, "zero": false}, "axis": {"orient": "right", "values": [0], "format": ".4f", "grid": false, "tickSize": 6, "labelPadding": 3, "title": null}},
                "y2": {"datum": 70}}},
  {"mark": {"type": "rect", "fill": "#f97c7c"},
   "encoding": {"x": {"datum": {"year": 2020, "month": "jan", "date": 9, "hours": 16}, "type": "temporal", "axis": null},
                "x2": {"datum": {"year": 2020, "month": "jan", "date": 20, "hours": 4}},
                "y": {"datum": 30, "type": "quantitative", "axis": null}, "y2": {"datum": -2}}},
  {"mark": {"type": "rule", "color": "#222222", "strokeWidth": 1, "strokeDash": [3, 2]},
   "encoding": {"x": {"datum": {"year": 2020, "month": "jan", "date": 9, "hours": 16}, "type": "temporal", "axis": null},
                "x2": {"datum": {"year": 2020, "month": "jan", "date": 20, "hours": 4}},
                "y": {"datum": 70, "type": "quantitative", "axis": null}}},
  {"mark": {"type": "rule", "color": "#222222", "strokeWidth": 1, "strokeDash": [3, 2]},
   "encoding": {"x": {"datum": {"year": 2020, "month": "jan", "date": 9, "hours": 16}, "type": "temporal", "axis": null},
                "x2": {"datum": {"year": 2020, "month": "jan", "date": 20, "hours": 4}},
                "y": {"datum": 30, "type": "quantitative", "axis": null}}},
  {"mark": {"type": "rule", "color": "#111111", "strokeWidth": 1},
   "encoding": {"x": {"datum": {"year": 2020, "month": "jan", "date": 20, "hours": 4}, "type": "temporal", "axis": null},
                "y": {"datum": 100, "type": "quantitative", "axis": null}, "y2": {"datum": 70}}},
  {"mark": {"type": "rule", "color": "#111111", "strokeWidth": 1},
   "encoding": {"x": {"datum": {"year": 2020, "month": "jan", "date": 20, "hours": 4}, "type": "temporal", "axis": null},
                "y": {"datum": 30, "type": "quantitative", "axis": null}, "y2": {"datum": -2}}},
  {"mark": {"type": "rule", "color": "#333333", "strokeWidth": 1, "clip": true},
   "encoding": {"x": {"datum": {"year": 2020, "month": "jan", "date": 9, "hours": 16}, "type": "temporal", "axis": null},
                "y": {"datum": 100, "type": "quantitative", "axis": null}, "y2": {"datum": -2}}},
  {"data": {"name": "rsi"}, "mark": {"type": "line", "color": "#2d4cff", "strokeWidth": 1, "clip": true},
   "encoding": {"x": {"field": "t", "type": "temporal", "axis": null}, "y": {"field": "v", "type": "quantitative", "axis": null}}},
  {"mark": {"type": "rect", "fill": "#555555", "opacity": 0.9},
   "encoding": {"x": {"datum": {"year": 2020, "month": "jan", "date": 9, "hours": 17, "minutes": 9}, "type": "temporal", "axis": null}, "x2": {"datum": {"year": 2020, "month": "jan", "date": 10, "hours": 19, "minutes": 47}},
                "y": {"datum": 90, "type": "quantitative", "axis": null}, "y2": {"datum": 25}}},
  {"mark": {"type": "rect", "fill": "#22ee22"},
   "encoding": {"x": {"datum": {"year": 2020, "month": "jan", "date": 9, "hours": 17, "minutes": 9}, "type": "temporal", "axis": null}, "x2": {"datum": {"year": 2020, "month": "jan", "date": 9, "hours": 17, "minutes": 45}},
                "y": {"datum": 90, "type": "quantitative", "axis": null}, "y2": {"datum": 25}}},
  {"mark": {"type": "text", "text": "RSI (14,70,30,1)", "align": "left", "baseline": "middle", "fill": "#f2f2f2", "fontSize": 11, "fontWeight": "bold"},
   "encoding": {"x": {"datum": {"year": 2020, "month": "jan", "date": 9, "hours": 20, "minutes": 2}, "type": "temporal", "axis": null}, "y": {"datum": 57, "type": "quantitative", "axis": null}}},
  {"mark": {"type": "text", "text": "≡", "align": "center", "baseline": "middle", "fill": "#888888", "fontSize": 12},
   "encoding": {"x": {"datum": {"year": 2020, "month": "jan", "date": 15, "hours": 0}, "type": "temporal", "axis": null}, "y": {"datum": 117, "type": "quantitative", "axis": null}}}
 ]
},
{
 "width": 1068, "height": 25,
 "data": {"values": [{}]},
 "resolve": {"axis": {"x": "independent", "y": "independent"}},
 "layer": [
  {"data": {"name": "candles"}, "mark": {"type": "bar", "size": 2, "opacity": 0.85, "clip": true},
   "encoding": {"x": {"field": "t", "type": "temporal", "scale": {"domain": [{"year": 2020, "month": "jan", "date": 9, "hours": 15, "minutes": 57}, {"year": 2020, "month": "jan", "date": 20, "hours": 8, "minutes": 16}]},
                      "axis": {"orient": "bottom", "values": [{"year": 2020, "month": "jan", "date": 9, "hours": 18}, {"year": 2020, "month": "jan", "date": 10}, {"year": 2020, "month": "jan", "date": 11}, {"year": 2020, "month": "jan", "date": 12}, {"year": 2020, "month": "jan", "date": 13}, {"year": 2020, "month": "jan", "date": 14}, {"year": 2020, "month": "jan", "date": 15}, {"year": 2020, "month": "jan", "date": 16}, {"year": 2020, "month": "jan", "date": 17}, {"year": 2020, "month": "jan", "date": 18}, {"year": 2020, "month": "jan", "date": 19}, {"year": 2020, "month": "jan", "date": 20}],
                               "labelExpr": "datum.value < datetime(2020,0,9,23,0) ? 'Jan' : '' + date(datum.value)", "grid": false, "tickSize": 4, "labelPadding": 2, "labelFlush": false, "labelOverlap": false, "title": null,
                               "tickOpacity": {"condition": {"test": "datum.value < datetime(2020,0,9,23,0)", "value": 0}, "value": 1}}},
                "y": {"field": "hg", "type": "quantitative", "scale": {"domain": [-9.3, 15.7], "nice": false, "zero": false}, "axis": {"orient": "right", "values": [0], "labelExpr": "'-0.0000'", "grid": true, "gridColor": "#d9d9d9", "tickSize": 6, "labelPadding": 3, "title": null}},
                "y2": {"datum": 0},
                "color": {"condition": {"test": "datum.hg >= 0", "value": "#22ee22"}, "value": "#ff2020"}}},
  {"data": {"name": "macd"}, "mark": {"type": "line", "color": "#2d4cff", "strokeWidth": 1.2, "clip": true},
   "encoding": {"x": {"field": "t", "type": "temporal", "axis": null}, "y": {"field": "m", "type": "quantitative", "axis": null}}},
  {"data": {"name": "macd"}, "mark": {"type": "line", "color": "#f5781e", "strokeWidth": 1.2, "clip": true},
   "encoding": {"x": {"field": "t", "type": "temporal", "axis": null}, "y": {"field": "s", "type": "quantitative", "axis": null}}},
  {"mark": {"type": "rect", "fill": "#555555", "opacity": 0.9},
   "encoding": {"x": {"datum": {"year": 2020, "month": "jan", "date": 9, "hours": 17, "minutes": 9}, "type": "temporal", "axis": null}, "x2": {"datum": {"year": 2020, "month": "jan", "date": 10, "hours": 19, "minutes": 47}},
                "y": {"datum": 11.7, "type": "quantitative", "axis": null}, "y2": {"datum": -9.3}}},
  {"mark": {"type": "rect", "fill": "#1e3cff"},
   "encoding": {"x": {"datum": {"year": 2020, "month": "jan", "date": 9, "hours": 17, "minutes": 9}, "type": "temporal", "axis": null}, "x2": {"datum": {"year": 2020, "month": "jan", "date": 9, "hours": 17, "minutes": 45}},
                "y": {"datum": 11.7, "type": "quantitative", "axis": null}, "y2": {"datum": -9.3}}},
  {"mark": {"type": "text", "text": "MACD (12,26,9)", "align": "left", "baseline": "middle", "fill": "#f2f2f2", "fontSize": 11, "fontWeight": "bold"},
   "encoding": {"x": {"datum": {"year": 2020, "month": "jan", "date": 9, "hours": 20, "minutes": 2}, "type": "temporal", "axis": null}, "y": {"datum": 1.2, "type": "quantitative", "axis": null}}},
  {"mark": {"type": "text", "text": "≡", "align": "center", "baseline": "middle", "fill": "#888888", "fontSize": 12},
   "encoding": {"x": {"datum": {"year": 2020, "month": "jan", "date": 15, "hours": 0}, "type": "temporal", "axis": null}, "y": {"datum": 20.2, "type": "quantitative", "axis": null}}}
 ]
}
]
}
